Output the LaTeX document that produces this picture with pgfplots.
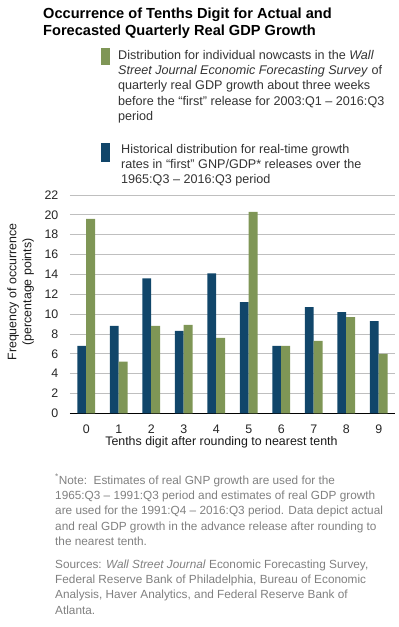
\documentclass[border=0pt]{standalone}
\usepackage{fontspec}
\setmainfont{Liberation Sans}
\usepackage{pgfplots}
\pgfplotsset{compat=1.18}
\definecolor{barblue}{HTML}{11466A}
\definecolor{bargreen}{HTML}{7F9656}
\definecolor{gridgray}{HTML}{BFBFBF}
\definecolor{legtext}{HTML}{333333}
\definecolor{notegray}{HTML}{808080}
\begin{document}
\begin{tikzpicture}
\useasboundingbox (-70pt,-213.7pt) rectangle (329pt,413.3pt);
\begin{axis}[
  at={(0,0)}, anchor=south west,
  scale only axis, width=325pt, height=218.3pt,
  xmin=-0.5, xmax=9.5, ymin=0, ymax=22,
  ybar=0pt, bar width=8.8pt,
  xtick={0,...,9}, ytick={0,2,...,22},
  major tick length=0pt,
  axis x line*=bottom, axis y line*=left,
  x axis line style={-,black,line width=0.8pt},
  y axis line style={draw=none},
  ymajorgrids, grid style={gridgray,line width=0.8pt},
  /pgf/number format/assume math mode=true,
  tick label style={font=\fontsize{12.4}{14}\selectfont, text=black!85},
  yticklabel style={anchor=east, inner sep=0pt, xshift=-11.5pt},
  xticklabel style={anchor=base, inner sep=0pt, yshift=-19.7pt},
  xlabel={Tenths digit after rounding to nearest tenth},
  xlabel style={at={(axis description cs:0.466,0)}, anchor=base, yshift=-31.7pt, inner sep=0pt, font=\fontsize{12.4}{14}\selectfont, text=black!90},
  ylabel={Frequency of occurrence\\(percentage points)},
  ylabel style={at={(axis description cs:-0.152,0.556)}, anchor=center, align=center, inner sep=0pt, font=\fontsize{12.4}{15}\selectfont, text=black!90},
]
\addplot[fill=barblue, draw=none] coordinates {(0,6.8) (1,8.8) (2,13.6) (3,8.3) (4,14.1) (5,11.2) (6,6.8) (7,10.7) (8,10.2) (9,9.3)};
\addplot[fill=bargreen, draw=none] coordinates {(0,19.6) (1,5.2) (2,8.8) (3,8.9) (4,7.6) (5,20.3) (6,6.8) (7,7.3) (8,9.7) (9,6.0)};
\end{axis}
% title
\node[anchor=base west, inner sep=0pt] at (-27pt,395pt) {\parbox[t]{360pt}{\raggedright\fontsize{14.6}{17.3}\selectfont\bfseries Occurrence of Tenths Digit for Actual and\\Forecasted Quarterly Real GDP Growth}};
% legend
\fill[bargreen] (31pt,348.3pt) rectangle (40pt,365.6pt);
\node[anchor=base west, inner sep=0pt, text=legtext] at (48pt,354pt) {\parbox[t]{300pt}{\raggedright\fontsize{12.6}{15.3}\selectfont Distribution for individual nowcasts in the \textit{Wall}\\\textit{Street Journal Economic Forecasting Survey} of\\quarterly real GDP growth about three weeks\\before the “first” release for 2003:Q1 – 2016:Q3\\period}};
\fill[barblue] (31pt,251.3pt) rectangle (40pt,270.3pt);
\node[anchor=base west, inner sep=0pt, text=legtext] at (51pt,260pt) {\parbox[t]{300pt}{\raggedright\fontsize{12.6}{15.1}\selectfont Historical distribution for real-time growth\\rates in “first” GNP/GDP* releases over the\\1965:Q3 – 2016:Q3 period}};
% notes
\node[anchor=base west, inner sep=0pt, text=notegray] at (-15pt,-70.7pt) {\parbox[t]{360pt}{\raggedright\fontsize{11.8}{15.4}\selectfont \textsuperscript{*}Note:\ \ Estimates of real GNP growth are used for the\\1965:Q3 – 1991:Q3 period and estimates of real GDP growth\\are used for the 1991:Q4 – 2016:Q3 period. Data depict actual\\and real GDP growth in the advance release after rounding to\\the nearest tenth.}};
\node[anchor=base west, inner sep=0pt, text=notegray] at (-15pt,-154.7pt) {\parbox[t]{360pt}{\raggedright\fontsize{11.8}{15.4}\selectfont Sources: \textit{Wall Street Journal} Economic Forecasting Survey,\\Federal Reserve Bank of Philadelphia, Bureau of Economic\\Analysis, Haver Analytics, and Federal Reserve Bank of\\Atlanta.}};
\end{tikzpicture}
\end{document}
